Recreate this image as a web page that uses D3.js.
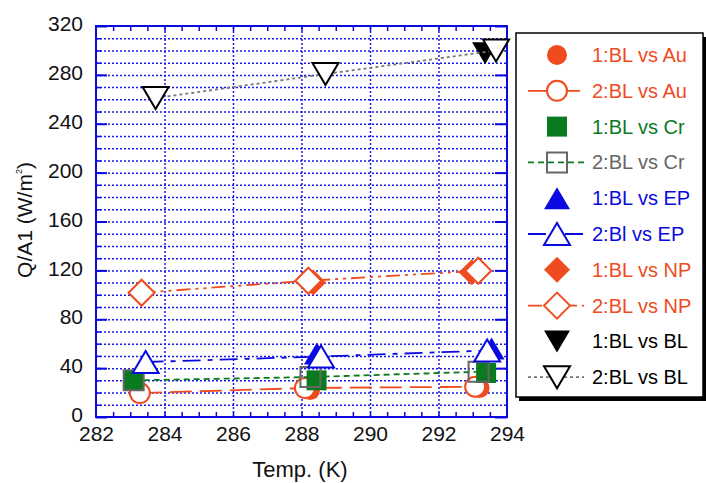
<!DOCTYPE html>
<html>
<head>
<meta charset="utf-8">
<script src="https://cdn.jsdelivr.net/npm/d3@7"></script>
<style>
  body { margin: 0; background: #fff; }
  text { font-family: "Liberation Sans", Arial, sans-serif; }
</style>
</head>
<body>
<div id="chart"></div>
<script>
// values
var xTicks = [282, 284, 286, 288, 290, 292, 294]
var yTicks = [0, 40, 80, 120, 160, 200, 240, 280, 320]

var au1Temp = [283.28, 288.25, 293.2], au1Q = [19.6, 22.0, 23.7]
var au2Temp = [283.28, 288.1, 293.07], au2Q = [19.6, 23.7, 24.8]
var cr1Temp = [283.1, 288.44, 293.39], cr1Q = [30, 30, 36]
var cr2Temp = [283.1, 288.26, 293.17], cr2Q = [30, 32.7, 37]
var ep1Temp = [283.45, 288.45, 293.55], ep1Q = [45, 52, 56]
var ep2Temp = [283.45, 288.57, 293.42], ep2Q = [45, 49.5, 54.4]
var np1Temp = [283.33, 288.34, 292.97], np1Q = [101.7, 110, 118.5]
var np2Temp = [283.33, 288.2, 293.16], np2Q = [101.7, 111.5, 119.7]
var bl1Temp = [283.74, 288.7, 293.36], bl1Q = [261, 280.7, 297.6]
var bl2Temp = [283.74, 288.7, 293.68], bl2Q = [261, 280.7, 299.9]

var orange = "#f04b1e", green = "#0a7a1e", blue = "#0a0ae0", gray = "#666"

var series = [
  {name: "1:BL vs Au", t: au1Temp, q: au1Q, shape: "circle", color: orange, filled: true, text: orange},
  {name: "2:BL vs Au", t: au2Temp, q: au2Q, shape: "circle", color: orange, filled: false, text: orange, dash: "22,8", lc: orange},
  {name: "1:BL vs Cr", t: cr1Temp, q: cr1Q, shape: "square", color: green, filled: true, text: green},
  {name: "2:BL vs Cr", t: cr2Temp, q: cr2Q, shape: "square", color: gray, filled: false, hollow: true, text: gray, dash: "6,4", lc: green},
  {name: "1:BL vs EP", t: ep1Temp, q: ep1Q, shape: "tri", color: blue, filled: true, text: blue},
  {name: "2:Bl vs EP", t: ep2Temp, q: ep2Q, shape: "tri", color: blue, filled: false, text: blue, dash: "18,7,5,7", lc: blue},
  {name: "1:BL vs NP", t: np1Temp, q: np1Q, shape: "diamond", color: orange, filled: true, text: orange},
  {name: "2:BL vs NP", t: np2Temp, q: np2Q, shape: "diamond", color: orange, filled: false, text: orange, dash: "14,5,3,5,3,5", lc: orange},
  {name: "1:BL vs BL", t: bl1Temp, q: bl1Q, shape: "tridown", color: "#000", filled: true, text: "#000"},
  {name: "2:BL vs BL", t: bl2Temp, q: bl2Q, shape: "tridown", color: "#000", filled: false, text: "#000", dash: "3,3", lc: "#777"}
]

var W = 706, H = 483
var margin = {top: 26, right: 199, bottom: 66, left: 96},
width = W - margin.left - margin.right,
height = H - margin.top - margin.bottom;

var svg = d3.select("#chart").append("svg")
  .attr("width", W).attr("height", H)

var g = svg.append("g")
  .attr("transform", "translate(" + margin.left + "," + margin.top + ")")

var x = d3.scaleLinear().domain([282, 294]).range([0, width])
var y = d3.scaleLinear().domain([0, 320]).range([height, 0])

var gridBlue = "#1a1ae6"

// horizontal grid every 10
g.append("g")
  .call(d3.axisLeft(y).tickValues(d3.range(10, 320, 10)).tickSize(-width).tickFormat(""))
  .call(a => a.select(".domain").remove())
  .selectAll("line").attr("stroke", gridBlue).attr("stroke-width", 1.5).attr("stroke-dasharray", "2,2")

// vertical grid at majors
g.append("g")
  .attr("transform", "translate(0," + height + ")")
  .call(d3.axisBottom(x).tickValues(d3.range(284, 294, 2)).tickSize(-height).tickFormat(""))
  .call(a => a.select(".domain").remove())
  .selectAll("line").attr("stroke", gridBlue).attr("stroke-width", 1.5).attr("stroke-dasharray", "2,2")

// minor ticks
var minorX = d3.range(282.5, 294, 0.5)
g.append("g").attr("transform", "translate(0," + height + ")")
  .call(d3.axisBottom(x).tickValues(minorX).tickSize(-5).tickFormat(""))
  .call(a => a.select(".domain").remove())
  .selectAll("line").attr("stroke", blue).attr("stroke-width", 1.5)
g.append("g")
  .call(d3.axisTop(x).tickValues(minorX).tickSize(-5).tickFormat(""))
  .call(a => a.select(".domain").remove())
  .selectAll("line").attr("stroke", blue).attr("stroke-width", 1.5)
g.append("g")
  .call(d3.axisLeft(y).tickValues(d3.range(10, 320, 10)).tickSize(-5).tickFormat(""))
  .call(a => a.select(".domain").remove())
  .selectAll("line").attr("stroke", blue).attr("stroke-width", 1.5)
g.append("g")
  .call(d3.axisLeft(y).tickValues(yTicks).tickSize(-11).tickFormat(""))
  .call(a => a.select(".domain").remove())
  .selectAll("line").attr("stroke", blue).attr("stroke-width", 2)
g.append("g").attr("transform", "translate(" + width + ",0)")
  .call(d3.axisRight(y).tickValues(yTicks).tickSize(-12).tickFormat(""))
  .call(a => a.select(".domain").remove())
  .selectAll("line").attr("stroke", blue).attr("stroke-width", 2)

// tick labels
var xAxis = g.append("g").attr("transform", "translate(0," + height + ")")
  .call(d3.axisBottom(x).tickValues(xTicks).tickSize(0).tickPadding(9).tickFormat(d3.format("d")))
xAxis.select(".domain").remove()
xAxis.selectAll("text").attr("fill", "#111").style("font-size", "21px")

var yAxis = g.append("g")
  .call(d3.axisLeft(y).tickValues(yTicks).tickSize(0).tickPadding(13).tickFormat(d3.format("d")))
yAxis.select(".domain").remove()
yAxis.selectAll("text").attr("fill", "#111").style("font-size", "21px").attr("dy", "0.22em")

// border
g.append("rect").attr("width", width).attr("height", height)
  .attr("fill", "none").attr("stroke", blue).attr("stroke-width", 2)

// axis titles
svg.append("text").attr("x", 300).attr("y", 477).attr("text-anchor", "middle")
  .style("font-size", "22px").attr("fill", "#111").text("Temp. (K)")
var yl = svg.append("text").attr("transform", "translate(32,220) rotate(-90)")
  .attr("text-anchor", "middle").style("font-size", "21px").attr("fill", "#111")
yl.append("tspan").text("Q/A1 (W/m")
yl.append("tspan").attr("dy", -10).style("font-size", "9px").text("2")
yl.append("tspan").attr("dy", 10).text(")")

// marker shapes
function markerPath(shape) {
  if (shape == "tri") return "M0,-11L13,11L-13,11Z"
  if (shape == "tridown") return "M-13,-11L13,-11L0,11Z"
  if (shape == "diamond") return "M0,-13L13,0L0,13L-13,0Z"
  if (shape == "square") return "M-10,-10L10,-10L10,10L-10,10Z"
  return "M10,0A10,10 0 1,1 -10,0A10,10 0 1,1 10,0Z"
}
function drawMarker(sel, s) {
  sel.append("path")
    .attr("d", markerPath(s.shape))
    .attr("fill", s.filled ? s.color : (s.hollow ? "none" : "#fff"))
    .attr("stroke", s.color)
    .attr("stroke-width", s.filled ? 0 : 2)
}

var line = d3.line().x(d => x(d.t)).y(d => y(d.q))

series.forEach(function(s) {
  var pts = s.t.map((t, i) => ({t: t, q: s.q[i]}))
  if (s.dash) {
    g.append("path").datum(pts).attr("d", line)
      .attr("fill", "none").attr("stroke", s.lc).attr("stroke-width", 1.8)
      .attr("stroke-dasharray", s.dash)
  }
  g.append("g").selectAll("g").data(pts).enter().append("g")
    .attr("transform", d => "translate(" + x(d.t) + "," + y(d.q) + ")")
    .each(function() { drawMarker(d3.select(this), s) })
})

// legend
var lx = 516, ly = 33, lw = 187, lh = 364
svg.append("rect").attr("x", lx + 3).attr("y", ly + 4).attr("width", lw).attr("height", lh).attr("fill", "#000")
svg.append("rect").attr("x", lx).attr("y", ly).attr("width", lw).attr("height", lh)
  .attr("fill", "#fff").attr("stroke", "#000").attr("stroke-width", 1.5)

var rows = svg.append("g").selectAll("g").data(series).enter().append("g")
  .attr("transform", (d, i) => "translate(557," + (55 + i * 35.8) + ")")
rows.each(function(s) {
  var r = d3.select(this)
  if (s.dash) {
    r.append("line").attr("x1", -29).attr("x2", 27)
      .attr("stroke", s.lc).attr("stroke-width", 1.8).attr("stroke-dasharray", s.dash)
  }
  drawMarker(r, s)
  r.append("text").attr("x", 35).attr("dy", "0.35em")
    .style("font-size", "20px").attr("fill", s.text).text(s.name)
})
</script>
</body>
</html>
